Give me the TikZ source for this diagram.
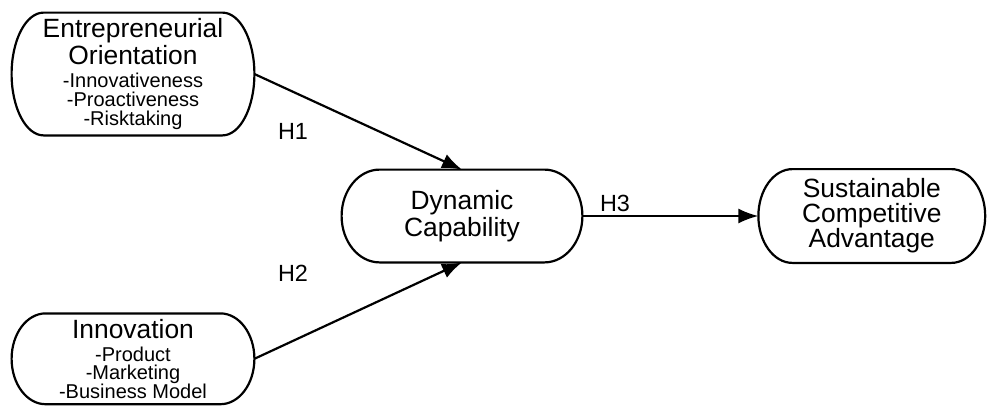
\documentclass[tikz,border=0pt]{standalone}
\usepackage{fontspec}
\setmainfont{Liberation Sans}
\usetikzlibrary{arrows.meta,calc,positioning}

\newcommand\facet[1]{{\fontsize{10}{10}\selectfont #1}}
% outline of a construct: flat top and bottom, elliptic ends
\newcommand\capsule[2]{%
  \draw[outline] let \p1=(#1.north), \p2=(#1.south), \n1={(\y1-\y2)/2} in
    ([xshift=#2]#1.north west) -- ([xshift=-#2]#1.north east)
    arc[start angle=90,end angle=-90,x radius=#2,y radius=\n1]
    -- ([xshift=#2]#1.south west)
    arc[start angle=270,end angle=90,x radius=#2,y radius=\n1] -- cycle;}

\begin{document}
\begin{tikzpicture}[
  x=0.5pt,y=-0.5pt,
  >={Latex[length=10pt,width=7.5pt]},
  construct/.style={rectangle,align=center,inner sep=0pt,
                    font=\fontsize{13.2}{13.5}\selectfont},
  outline/.style={line width=1.1pt},
  hyp/.style={font=\fontsize{11.7}{12}\selectfont,inner sep=1pt},
  link/.style={->,line width=1.1pt}
]
\useasboundingbox (0,0) rectangle (987,408);

\node[construct,minimum width=121pt,minimum height=61pt] (eo) at (133,74)
  {Entrepreneurial\\Orientation\\[-2pt]\facet{-Innovativeness}\\[-4.2pt]
   \facet{-Proactiveness}\\[-4.2pt]\facet{-Risktaking}};
\node[construct,minimum width=121pt,minimum height=45pt,below=89pt of eo] (inn)
  {Innovation\\[-2pt]\facet{-Product}\\[-4.2pt]\facet{-Marketing}\\[-4.2pt]
   \facet{-Business Model}};
\node[construct,minimum width=120pt,minimum height=46pt] (dc) at (462,216)
  {Dynamic\\Capability};
\node[construct,minimum width=113pt,minimum height=46.5pt,right=88pt of dc] (sca)
  {Sustainable\\[-1pt]Competitive\\[-1pt]Advantage};

\capsule{eo}{16pt}
\capsule{inn}{17pt}
\capsule{dc}{19pt}
\capsule{sca}{17pt}

\node[hyp] (h1) at (293,131) {H1};
\node[hyp] (h2) at (293,273) {H2};
\node[hyp] (h3) at (615,203) {H3};

\draw[link] (eo.east) -- (dc.north);
\draw[link] (inn.east) -- (dc.south);
\draw[link] (dc) -- (sca);
\end{tikzpicture}
\end{document}
